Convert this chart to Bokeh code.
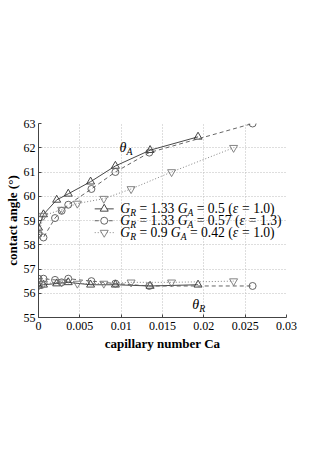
from bokeh.plotting import figure
from bokeh.models import Range1d, FixedTicker, Label
from bokeh.embed import file_html
from bokeh.resources import INLINE

# ---------------- data ----------------
x_ticks = [0, 0.005, 0.01, 0.015, 0.02, 0.025, 0.03]
x_tick_labels = ["0", "0.005", "0.01", "0.015", "0.02", "0.025", "0.03"]
y_ticks = [55, 56, 57, 58, 59, 60, 61, 62, 63]

# series 1: G_R = 1.33, G_A = 0.5 (eps = 1.0)  -- triangles up, solid
ca1 = [0, 0.0006, 0.0022, 0.0036, 0.0063, 0.0093, 0.0135, 0.0193]
adv1 = [58.7, 59.25, 59.85, 60.1, 60.6, 61.25, 61.9, 62.45]
rec1 = [56.3, 56.35, 56.4, 56.45, 56.35, 56.35, 56.3, 56.35]

# series 2: G_R = 1.33, G_A = 0.57 (eps = 1.3) -- circles, dashed
ca2 = [0, 0.0006, 0.0020, 0.0028, 0.0036, 0.0064, 0.0093, 0.0134, 0.0259]
adv2 = [58.45, 58.3, 59.1, 59.4, 59.65, 60.3, 61.0, 61.8, 63.0]
rec2 = [56.6, 56.6, 56.55, 56.45, 56.6, 56.5, 56.4, 56.3, 56.3]

# series 3: G_R = 0.9, G_A = 0.42 (eps = 1.0) -- triangles down, dotted
ca3 = [0, 0.0006, 0.0028, 0.0047, 0.0079, 0.0112, 0.0161, 0.0236]
adv3 = [58.4, 59.2, 59.45, 59.7, 59.9, 60.3, 61.0, 62.0]
rec3 = [56.3, 56.4, 56.45, 56.4, 56.4, 56.45, 56.45, 56.5]

legend_values = [("1.33", "0.5", "1.0"), ("1.33", "0.57", "1.3"), ("0.9", "0.42", "1.0")]

# ---------------- figure ----------------
SERIF = "Liberation Serif"
p = figure(frame_width=248, frame_height=194,
           x_range=Range1d(0, 0.03), y_range=Range1d(55, 63),
           output_backend="svg", toolbar_location=None,
           min_border_left=38, min_border_right=40,
           min_border_top=123, min_border_bottom=140)
p.outline_line_color = None
p.background_fill_color = "white"
p.border_fill_color = "white"

for ax in (p.xaxis[0], p.yaxis[0]):
    ax.major_label_text_font = SERIF
    ax.major_label_text_font_size = "12px"
    ax.major_label_text_color = "black"
    ax.axis_label_text_font = SERIF
    ax.axis_label_text_font_size = "13px"
    ax.axis_label_text_font_style = "bold"
    ax.axis_label_text_color = "black"
    ax.axis_line_color = "#444444"
    ax.major_tick_line_color = "#444444"
    ax.major_tick_in = 3
    ax.major_tick_out = 0
    ax.minor_tick_line_color = None

p.xaxis.ticker = FixedTicker(ticks=x_ticks)
p.xaxis.major_label_overrides = {t: l for t, l in zip(x_ticks, x_tick_labels)}
p.yaxis.ticker = FixedTicker(ticks=y_ticks)
p.xaxis.axis_label = "capillary number Ca"
p.yaxis.axis_label = "contact angle (°)"
p.xaxis.major_label_standoff = 4
p.yaxis.major_label_standoff = 3
p.xaxis.axis_label_standoff = 3
p.yaxis.axis_label_standoff = 1

p.grid.grid_line_color = "#bdbdbd"
p.grid.grid_line_dash = "1 2"
p.grid.grid_line_width = 1

styles = [
    dict(ca=ca1, adv=adv1, rec=rec1, dash="solid", marker="triangle", color="#333333", size=8),
    dict(ca=ca2, adv=adv2, rec=rec2, dash="4 3", marker="circle", color="#555555", size=7),
    dict(ca=ca3, adv=adv3, rec=rec3, dash="1 2", marker="inverted_triangle", color="#777777", size=8),
]

for s in styles:
    for ys in (s["adv"], s["rec"]):
        p.line(s["ca"], ys, line_color=s["color"], line_dash=s["dash"], line_width=0.9)
        p.scatter(s["ca"], ys, marker=s["marker"], size=s["size"],
                  fill_color=None, line_color=s["color"], line_width=0.9)

# ---------------- rich-text helper ----------------
W = {" ": 0.25, ".": 0.25, "=": 0.564, "(": 0.333, ")": 0.333,
     "G": 0.722, "R": 0.611, "A": 0.611, "ε": 0.44, "θ": 0.5}
def width(t):
    return sum(W.get(c, 0.5) for c in t)

def rich(x, y, pieces, size):
    off = 0.0
    for txt, style, scale, dy in pieces:
        fs = size * scale
        lead = len(txt) - len(txt.lstrip(" "))
        core = txt.strip(" ")
        if core:
            p.add_layout(Label(x=x, y=y, x_offset=off + lead * 0.25 * fs, y_offset=dy,
                               text=core, text_font=SERIF, text_font_style=style,
                               text_font_size=f"{fs:.1f}px", text_baseline="middle",
                               text_color="black"))
        off += width(txt) * fs

# ---------------- legend (manual) ----------------
leg_x0, leg_x1, leg_xm, leg_tx = 0.0068, 0.0091, 0.00795, 0.0099
leg_rows = [59.48, 58.99, 58.5]
FS = 13.6
for s, yv, (gr, ga, ep) in zip(styles, leg_rows, legend_values):
    p.line([leg_x0, leg_x1], [yv, yv], line_color=s["color"], line_dash=s["dash"], line_width=0.9)
    p.scatter([leg_xm], [yv], marker=s["marker"], size=s["size"],
              fill_color="white", line_color=s["color"], line_width=0.9)
    rich(leg_tx, yv, [("G", "italic", 1, 0), ("R", "italic", 0.7, -4),
                      (" = " + gr + " ", "normal", 1, 0),
                      ("G", "italic", 1, 0), ("A", "italic", 0.7, -4),
                      (" = " + ga + " (", "normal", 1, 0),
                      ("ε", "italic", 1, 0), (" = " + ep + ")", "normal", 1, 0)], FS)

rich(0.0098, 62.0, [("θ", "italic", 1, 0), ("A", "italic", 0.7, -4)], 14)
rich(0.0186, 55.55, [("θ", "italic", 1, 0), ("R", "italic", 0.7, -4)], 14)

open("out.html", "w").write(file_html(p, INLINE))
